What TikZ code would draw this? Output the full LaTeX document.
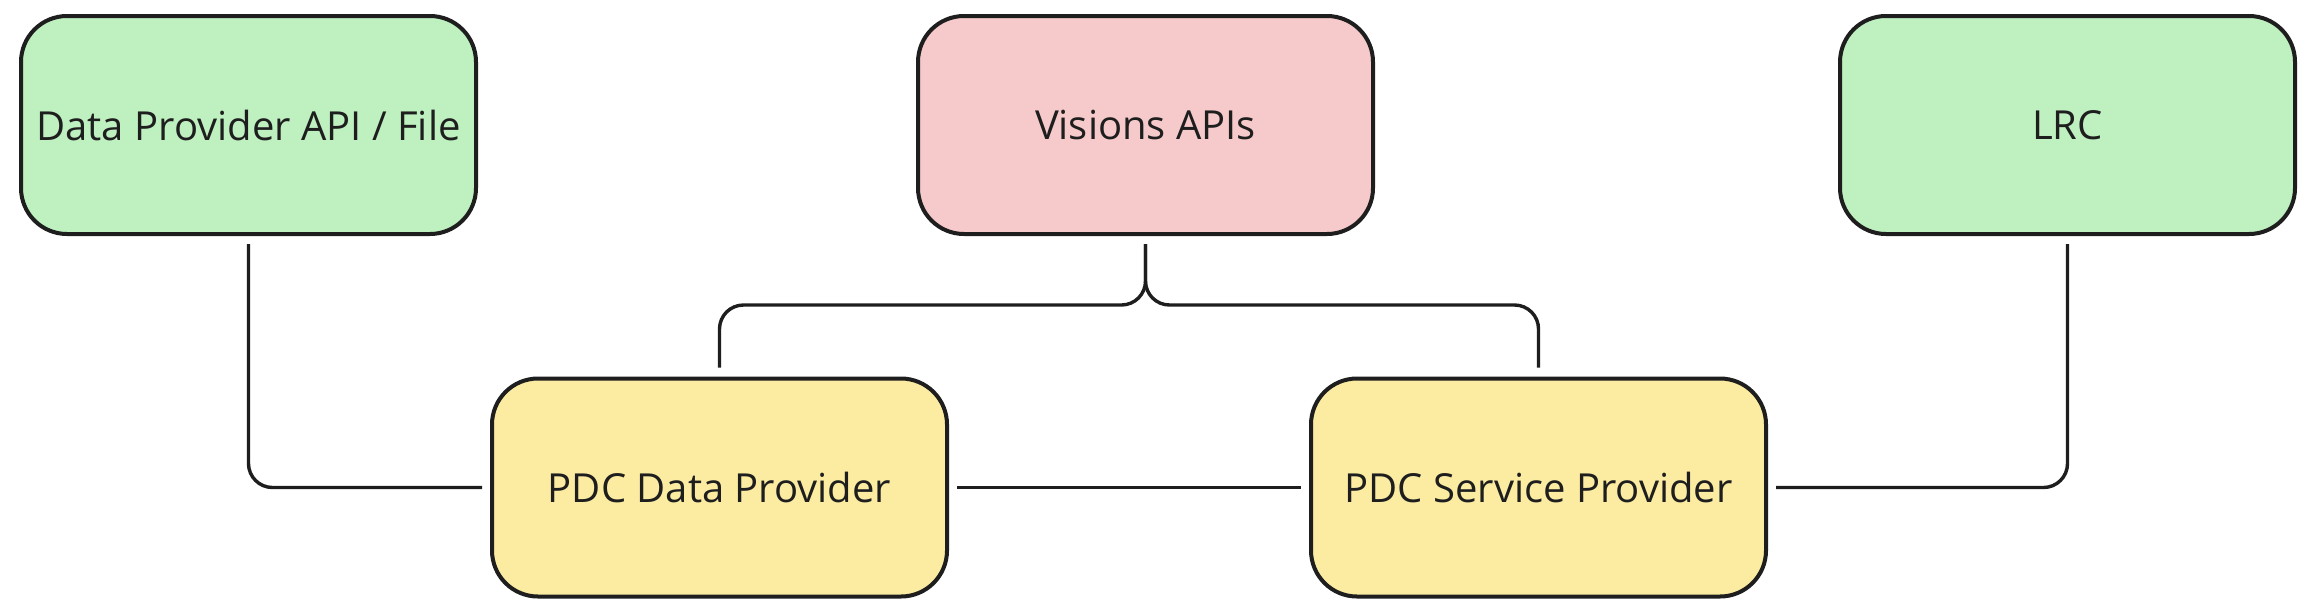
\documentclass[tikz,border=0pt]{standalone}
\usepackage{fontspec}
\setmainfont{Open Sans}
\usetikzlibrary{positioning}
\usetikzlibrary{calc}
\definecolor{ink}{HTML}{1E1E1E}
\definecolor{greenfill}{RGB}{190,240,192}
\definecolor{redfill}{RGB}{246,202,202}
\definecolor{yellowfill}{RGB}{252,236,162}
\begin{document}
\begin{tikzpicture}[x=1pt,y=-1pt,
             block/.style={draw=ink, line width=4pt, text=ink, font=\fontsize{40}{46}\selectfont,
             text centered, minimum width=455pt, minimum height=218pt, rounded corners=46pt},
             source/.style={block, fill=greenfill},
             api/.style={block, fill=redfill},
             connector/.style={block, fill=yellowfill},
             connections/.style={draw=ink, line width=3.4pt, rounded corners=24pt,
                shorten <=8pt, shorten >=8pt},
          ]
          \useasboundingbox (0,0) rectangle (2320,614);

          \node at (248.5,125) (dpapi) [source]  {Data Provider API / File};
          \node at (1145.5,125) (vis) [api]  {Visions APIs};
          \node at (2067.5,125) (lrc) [source]  {LRC};
          \node at (719.5,487.5) (pdcdp) [connector]  {PDC Data Provider};
          \node at (1538.5,487.5) (pdcsp) [connector]  {PDC Service Provider};
          \coordinate (split) at (1145.5,305);
          \draw[connections] (dpapi.south) |- (pdcdp.west);
          \draw[connections] (pdcdp.east) -- (pdcsp.west);
          \draw[connections] (pdcsp.east) -| (lrc.south);
          \draw[connections, shorten >=9pt] (vis.south) -- (split) -| (pdcdp.north);
          \draw[connections, shorten >=9pt] (vis.south) -- (split) -| (pdcsp.north);

\end{tikzpicture}
\end{document}
